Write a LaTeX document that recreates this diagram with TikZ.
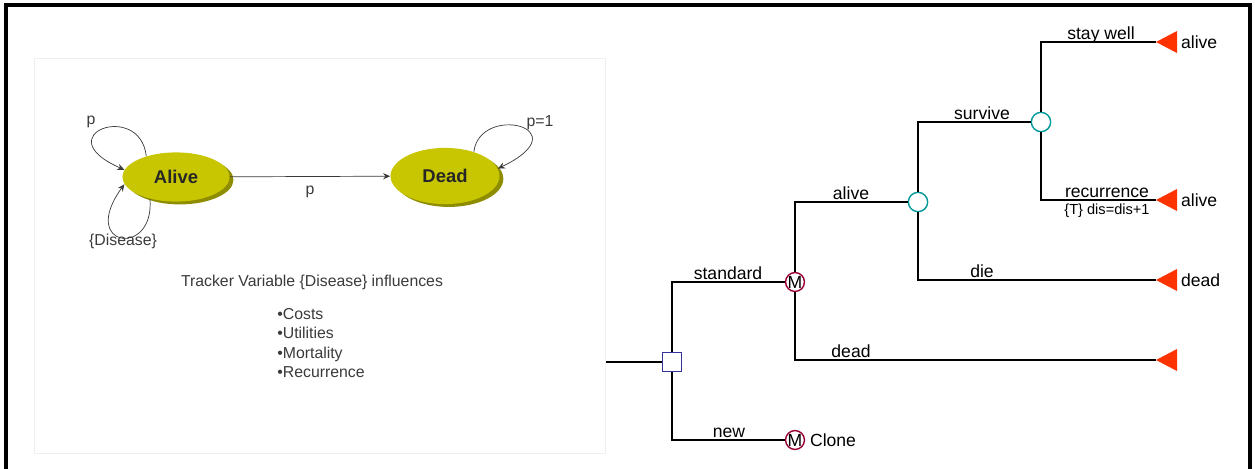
\documentclass[tikz,border=0pt]{standalone}
\usepackage{fontspec}
\setmainfont{Liberation Sans}
\usepackage{xcolor}
\usepackage{tikz}
\usetikzlibrary{arrows.meta,positioning,shapes.geometric,shadows}
\definecolor{olivey}{HTML}{C8C600}
\definecolor{oliveshade}{HTML}{8E8C00}
\definecolor{termred}{HTML}{FF3300}
\definecolor{chteal}{HTML}{009999}
\definecolor{mkvred}{HTML}{990033}
\definecolor{decblue}{HTML}{333399}
\definecolor{inkgray}{HTML}{3A3A3A}

\begin{document}
\begin{tikzpicture}[x=0.02cm,y=-0.02cm,
  st/.style={ellipse,fill=olivey,inner sep=0pt,font=\bfseries\fontsize{10.5}{12}\selectfont,text=black!85,
    drop shadow={shadow xshift=2.2pt,shadow yshift=-1.6pt,fill=oliveshade,opacity=1}},
  tr/.style={draw=inkgray,thin,-{Stealth[length=4pt,width=3.5pt]}},
  note/.style={text=inkgray,font=\fontsize{9}{11}\selectfont,inner sep=0pt},
  br/.style={draw=black,line width=1pt},
  dec/.style={rectangle,draw=decblue,thick,fill=white,minimum size=10.5pt,inner sep=0pt},
  ch/.style={circle,draw=chteal,thick,fill=white,minimum size=11pt,inner sep=0pt},
  mk/.style={circle,draw=mkvred,thick,fill=white,minimum size=10.5pt,inner sep=0pt,font=\fontsize{10}{12}\selectfont},
  term/.style={fill=termred},
  lbl/.style={anchor=base,font=\fontsize{10}{12}\selectfont,inner sep=0pt},
  endlbl/.style={anchor=west,font=\fontsize{10}{12}\selectfont,inner sep=1pt}
]
\useasboundingbox (0,0) rectangle (1255,468);
% frame and left panel
\draw[line width=2pt] (6,470) -- (6,5) -- (1250,5) -- (1250,470);
\draw[black!6] (34,58) rectangle (605,453);

% Markov state diagram
\node[st,minimum width=61pt,minimum height=28pt] (alive) at (176,177) {Alive};
\node[st,minimum width=62pt,minimum height=32pt] (dead) at (445,176) {Dead};
\draw[tr] (alive) -- node[note,below=5pt] (pAD) {p} (dead);
\draw[tr] (alive.145) .. controls (140,100) and (45,135) .. (alive.172);
\draw[tr] (alive.220) .. controls (155,258) and (78,248) .. (alive.188);
\draw[tr] (dead.40) .. controls (480,103) and (582,128) .. (dead.8);
\node[note] (pAA) at (91,122) {p};
\node[note] (dis) at (123,241) {\{Disease\}};
\node[note] (pDD) at (540,123) {p=1};
\node[note,anchor=base] (track) at (312,286) {Tracker Variable \{Disease\} influences};
\foreach \t [count=\i] in {Costs,Utilities,Mortality,Recurrence}
  \node[note,anchor=base west] (inf\i) at (277,{299.5+19.5*\i}) {\textbullet\t};

% decision tree
\node[dec] (root) at (672,362) {};
\node[mk] (mstd) at (795,282) {M};
\node[mk] (mnew) at (795,440) {M};
\node[ch] (c1) at (918,202) {};
\node[ch] (c2) at (1041,122) {};
\coordinate (in) at (606,362);
\coordinate (t1) at (1156,42);
\coordinate (t2) at (1156,200);
\coordinate (t3) at (1156,280);
\coordinate (t4) at (1156,360);
\foreach \t in {t1,t2,t3,t4}
  \fill[term] (\t) -- ++(21,-11) -- ++(0,22) -- cycle;

\draw[br] (in) -- (root);
\draw[br] (root) |- (mstd);
\draw[br] (root) |- (mnew);
\draw[br] (mstd) |- (c1);
\draw[br] (mstd) |- (t4);
\draw[br] (c1) |- (c2);
\draw[br] (c1) |- (t3);
\draw[br] (c2) |- (t1);
\draw[br] (c2) |- (t2);

\node[lbl] at (728,279) {standard};
\node[lbl] at (729,437) {new};
\node[lbl] at (851,199) {alive};
\node[lbl] at (851,357) {dead};
\node[lbl] at (982,119) {survive};
\node[lbl] at (982,277) {die};
\node[lbl] at (1101,39) {stay well};
\node[lbl] at (1107,197) {recurrence};
\node[anchor=north,font=\fontsize{8.3}{10}\selectfont,inner sep=0pt] at (1107,204) {\{T\} dis=dis+1};

\node[endlbl] at (1179,42) {alive};
\node[endlbl] at (1179,200) {alive};
\node[endlbl] at (1179,280) {dead};
\node[endlbl] (clone) at (808,440) {Clone};
\end{tikzpicture}
\end{document}
